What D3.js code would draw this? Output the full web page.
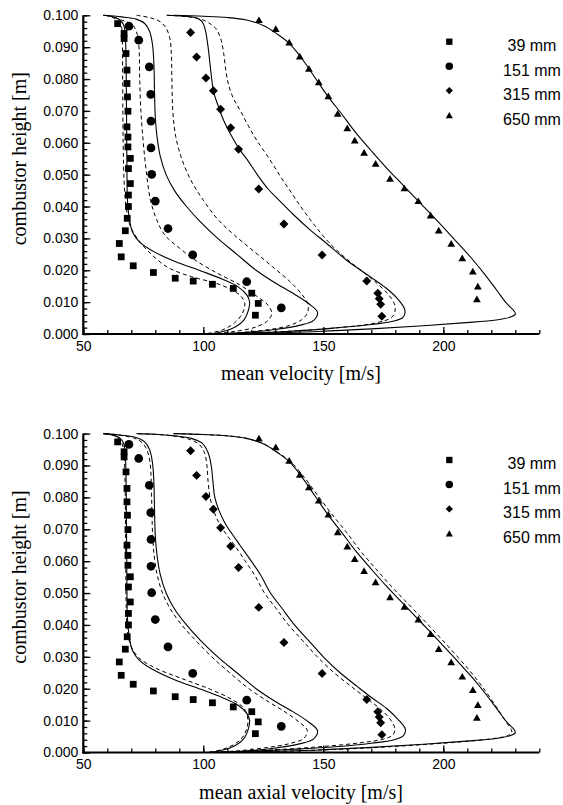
<!DOCTYPE html>
<html>
<head>
<meta charset="utf-8">
<script src="https://cdn.jsdelivr.net/npm/d3@7"></script>
<style>
  html, body { margin: 0; padding: 0; background: #fff; }
  svg { display: block; }
  .tick text { font-family: "Liberation Sans", Arial, sans-serif; font-size: 14px; fill: #000; }
  .title { font-family: "Liberation Serif", "Times New Roman", serif; font-size: 20px; fill: #000; }
  .legend { font-family: "Liberation Sans", Arial, sans-serif; font-size: 16px; fill: #000; }
</style>
</head>
<body>
<svg id="fig" width="563" height="805"></svg>
<script>
// Measured velocity profiles: [velocity (m/s), combustor height (m)]
const positions = ["39 mm", "151 mm", "315 mm", "650 mm"];

const meas39 = [[64.3,0.0974],[67.0,0.0943],[67.0,0.0927],[67.8,0.0880],[68.2,0.0828],[68.2,0.0786],[68.4,0.0744],[68.6,0.0699],[68.2,0.0650],[68.6,0.0618],[68.6,0.0587],[69.6,0.0551],[68.8,0.0519],[69.6,0.0472],[68.8,0.0436],[68.8,0.0400],[68.3,0.0363],[67.5,0.0324],[65.0,0.0284],[65.8,0.0242],[70.8,0.0214],[79.2,0.0193],[88.3,0.0175],[95.8,0.0166],[103.8,0.0156],[112.5,0.0143],[120.2,0.0128],[122.9,0.0096],[121.7,0.0059]];
const meas151 = [[69.0,0.0966],[73.1,0.0922],[77.5,0.0838],[78.1,0.0752],[78.2,0.0668],[78.2,0.0584],[78.5,0.0501],[80.0,0.0417],[85.3,0.0331],[95.6,0.0248],[118.1,0.0164],[132.5,0.0082]];
const meas315 = [[94.7,0.0946],[97.2,0.0869],[101.1,0.0803],[104.2,0.0763],[107.2,0.0705],[111.4,0.0647],[114.7,0.0580],[123.1,0.0455],[133.6,0.0345],[149.5,0.0248],[168.1,0.0166],[172.7,0.0128],[173.3,0.0111],[173.9,0.0093],[174.4,0.0056]];
const meas650 = [[123.2,0.0986],[130.2,0.0958],[135.8,0.0916],[140.2,0.0872],[144.0,0.0833],[148.1,0.0791],[152.1,0.0747],[156.0,0.0692],[160.0,0.0647],[163.1,0.0608],[167.0,0.0570],[171.8,0.0535],[177.8,0.0488],[183.8,0.0458],[189.6,0.0418],[194.7,0.0373],[198.1,0.0326],[203.3,0.0284],[207.9,0.0239],[212.3,0.0197],[214.4,0.0150],[214.0,0.0110]];

// Computed profiles (solid model)
const sim39 = [[58.3,0.100],[62,0.0996],[65,0.0987],[66.8,0.097],[67.4,0.094],[67.7,0.090],[67.9,0.080],[68.0,0.070],[68.1,0.060],[68.2,0.050],[68.4,0.042],[69.2,0.036],[70.5,0.032],[73.5,0.0288],[79,0.026],[88,0.0228],[99,0.0198],[108,0.0172],[114.5,0.0148],[118.2,0.0122],[119.3,0.0100],[118.8,0.0075],[116.8,0.0043],[112,0.0017],[106,0.0004],[102,0]];
const sim151 = [[58.3,0.100],[66,0.0995],[72,0.0988],[75.5,0.0975],[77.6,0.095],[78.8,0.091],[79.4,0.085],[79.7,0.075],[80,0.068],[80.7,0.062],[82,0.056],[84.5,0.050],[88,0.045],[93,0.040],[99,0.035],[106,0.030],[114,0.025],[122,0.020],[130,0.016],[138,0.0125],[144,0.0095],[147.6,0.0068],[146,0.0043],[140,0.0027],[130,0.0014],[118,0.0005],[105,0]];
const sim315Top = [[84.7,0.100],[92,0.0997],[97,0.0992],[99.5,0.098],[100.8,0.0955],[102,0.090],[103.2,0.082],[104.3,0.076],[106,0.072],[108.5,0.067],[111.5,0.0625],[115,0.058],[118.5,0.0545],[122.5,0.050],[127,0.0455],[131.5,0.042],[137.5,0.0375],[144,0.033],[151.4,0.0284],[160,0.023],[169.5,0.018],[176,0.0145],[181,0.011],[184,0.0075],[183.2,0.0052],[179,0.004],[168,0.0028],[152,0.0017],[135,0.0008],[118,0.0003],[104,0]];
const sim315Axial = [[72.2,0.100],[80,0.0998],[88,0.0993],[95,0.0985],[99.5,0.097],[102,0.094],[103.3,0.090],[104,0.085],[104.8,0.080],[106.5,0.076],[109,0.072],[112,0.0685],[115.3,0.065],[120,0.060],[124,0.0555],[128,0.050],[133,0.045],[138,0.040],[144,0.035],[150,0.030],[157,0.025],[164.5,0.0205],[170.5,0.017],[176.4,0.0138],[181,0.0105],[184.2,0.0073],[183.4,0.0053],[179.5,0.004],[170,0.0029],[155,0.0018],[137.5,0.001],[120,0.0004],[104,0]];
const sim650 = [[87.5,0.100],[100,0.0997],[110,0.0993],[118,0.0985],[125,0.0968],[131,0.094],[135.8,0.0912],[140.5,0.087],[146.5,0.0805],[152,0.0745],[157.5,0.0692],[163.5,0.0632],[170,0.0575],[176.5,0.052],[183.5,0.0465],[190.5,0.041],[197.5,0.0355],[204.5,0.0298],[211.5,0.024],[217.5,0.0185],[222.5,0.0135],[226.5,0.0095],[229.5,0.0072],[230,0.0062],[228,0.0053],[222,0.0044],[208,0.0035],[190,0.0025],[170,0.0016],[148,0.0008],[125,0.0003],[105,0]];

// Computed profiles (dashed model), mean velocity panel
const alt39 = [[59,0.100],[63,0.099],[65.6,0.097],[66.2,0.093],[66.4,0.080],[66.6,0.060],[67,0.048],[67.8,0.040],[69.5,0.034],[72.5,0.030],[77,0.026],[85,0.021],[95,0.018],[105,0.016],[111.5,0.014],[115.5,0.012],[117.3,0.0095],[116.3,0.0065],[113,0.0035],[108,0.0013],[102,0.0002],[100,0]];
const alt151 = [[60,0.100],[66,0.0985],[70.5,0.097],[72.5,0.094],[73.2,0.090],[73.5,0.080],[74,0.070],[75,0.060],[76.4,0.050],[78,0.042],[80.5,0.036],[84,0.031],[90,0.027],[97,0.023],[106,0.019],[115,0.0155],[122,0.012],[127,0.009],[128.5,0.0065],[127,0.0043],[122,0.0022],[113,0.0008],[104,0.0001],[101,0]];
const alt151b = [[72.2,0.100],[78,0.0992],[82,0.098],[84.5,0.096],[86,0.093],[86.7,0.088],[86.9,0.080],[87.3,0.070],[88.5,0.062],[91,0.055],[95,0.048],[100,0.042],[106,0.036],[113,0.031],[121,0.026],[129,0.021],[136,0.0165],[141,0.0125],[143.5,0.0095],[143.5,0.0068],[141,0.0045],[135,0.0025],[122,0.0009],[108,0.0001],[104,0]];
const alt315 = [[85,0.100],[94,0.0995],[100,0.0985],[103.5,0.097],[105.6,0.0955],[107.5,0.092],[108.5,0.088],[109.5,0.082],[110.6,0.078],[112.5,0.074],[115.5,0.070],[119,0.065],[122.5,0.0605],[127.5,0.055],[132.5,0.049],[137,0.044],[141.5,0.039],[146.5,0.034],[152,0.029],[159,0.024],[166.5,0.0195],[172.5,0.0158],[177,0.0125],[179.6,0.0095],[179.9,0.0072],[178.5,0.0052],[172,0.0035],[158,0.0021],[138,0.001],[118,0.0003],[104,0]];

// Computed profiles (dashed model), mean axial velocity panel
const ax39 = [[59,0.100],[63.5,0.0993],[65.8,0.0975],[66.8,0.095],[67.2,0.090],[67.5,0.080],[67.7,0.060],[67.9,0.045],[68.4,0.038],[69.8,0.0335],[73,0.0298],[80,0.0265],[91,0.0232],[103,0.0198],[112,0.0166],[117,0.0138],[118.6,0.0103],[118,0.0072],[115.5,0.004],[110,0.0015],[104,0.0003],[101,0]];
const ax151 = [[59,0.100],[66,0.0994],[71.5,0.0985],[74.8,0.097],[76.7,0.0945],[77.8,0.091],[78.3,0.085],[78.6,0.075],[78.9,0.068],[79.5,0.062],[80.7,0.056],[83,0.050],[86.3,0.045],[91,0.040],[97,0.035],[103.5,0.030],[111,0.025],[119,0.020],[127,0.016],[134.5,0.0125],[140,0.0095],[143.3,0.007],[142,0.0045],[136,0.0028],[126,0.0015],[114,0.0005],[103,0]];
const ax315 = [[73,0.100],[81,0.0997],[89,0.0991],[95,0.098],[98.5,0.0965],[100.5,0.094],[101.5,0.090],[102,0.085],[102.8,0.080],[104.3,0.076],[106.5,0.072],[109.5,0.0685],[113,0.065],[117.5,0.060],[121.5,0.0555],[125.5,0.050],[130.5,0.045],[135.5,0.040],[141.5,0.035],[147.5,0.030],[154.5,0.025],[162,0.0205],[168,0.017],[173.5,0.0138],[177.8,0.0105],[179.8,0.0075],[179,0.0055],[175,0.0042],[165,0.003],[150,0.0019],[133,0.001],[117,0.0004],[103,0]];
const ax650 = [[88,0.100],[100,0.0997],[110,0.0993],[118,0.0985],[125,0.0968],[131.3,0.094],[136.3,0.0912],[141.3,0.087],[147.8,0.0805],[153.8,0.0745],[159.5,0.0692],[165.5,0.0632],[172,0.0575],[178.5,0.052],[185.5,0.0465],[192.5,0.041],[199.3,0.0355],[206.2,0.0298],[212.8,0.024],[218.3,0.0185],[222.8,0.0135],[226.2,0.0095],[228.3,0.0072],[228.5,0.0062],[226.5,0.0052],[219,0.0042],[205,0.0032],[188,0.0023],[168,0.0014],[146,0.0007],[123,0.0002],[104,0]];

// Axis ticks
const xMajor = [50, 100, 150, 200];
const xMinor = d3.range(50, 241, 10);
const yMajor = d3.range(0, 0.1001, 0.01);
const yMinor = d3.range(0, 0.1001, 0.002);

const svg = d3.select("#fig");
const x = d3.scaleLinear().domain([50, 240]).range([83.3, 539.3]);

const panels = [
  { top: 15.3, bottom: 334, title: "mean velocity [m/s]",
    solid: [sim39, sim151, sim315Top, sim650], dashed: [alt39, alt151, alt151b, alt315] },
  { top: 433.6, bottom: 752.5, title: "mean axial velocity [m/s]",
    solid: [sim39, sim151, sim315Axial, sim650], dashed: [ax39, ax151, ax315, ax650] }
];

const measured = [meas39, meas151, meas315, meas650];

// marker shapes, each centred on its point
const markers = [
  () => d3.symbol(d3.symbolSquare, 46)(),
  () => d3.symbol(d3.symbolCircle, 60)(),
  () => d3.symbol(d3.symbolSquare, 40)(),
  () => d3.symbol(d3.symbolTriangle, 26)()
];
const markerRot = [0, 0, 45, 0];
const markerDy = [0, 0, 0, 1.1];

const legendMarkers = [
  () => d3.symbol(d3.symbolSquare, 40)(),
  () => d3.symbol(d3.symbolCircle, 44)(),
  () => d3.symbol(d3.symbolSquare, 26)(),
  () => d3.symbol(d3.symbolTriangle, 22)()
];

panels.forEach(p => {
  const y = d3.scaleLinear().domain([0, 0.1]).range([p.bottom, p.top]);
  const g = svg.append("g");
  const line = d3.line()
    .x(d => x(d[0])).y(d => y(d[1]))
    .curve(d3.curveCatmullRom.alpha(0.5));

  g.selectAll("path.solid").data(p.solid).join("path")
    .attr("class", "solid")
    .attr("d", line)
    .attr("fill", "none").attr("stroke", "#000").attr("stroke-width", 1.1);

  g.selectAll("path.dash").data(p.dashed).join("path")
    .attr("class", "dash")
    .attr("d", line)
    .attr("fill", "none").attr("stroke", "#000").attr("stroke-width", 1)
    .attr("stroke-dasharray", "4,3");

  // measurement symbols
  measured.forEach((set, i) => {
    g.append("g").selectAll("path").data(set).join("path")
      .attr("d", markers[i])
      .attr("transform", d => `translate(${x(d[0])},${y(d[1]) + markerDy[i]}) rotate(${markerRot[i]})`)
      .attr("fill", "#000");
  });

  // x axis: minor then labelled ticks, pointing inward
  const gx = g.append("g").attr("transform", `translate(0,${p.bottom})`);
  gx.append("g").call(d3.axisBottom(x).tickValues(xMinor).tickSize(-4).tickSizeOuter(0).tickFormat(""));
  gx.append("g").call(d3.axisBottom(x).tickValues(xMajor).tickSize(-7).tickSizeOuter(0).tickPadding(7));
  gx.selectAll(".domain").remove();
  gx.selectAll(".tick line").attr("stroke", "#000").attr("stroke-width", 1.3);
  gx.append("line").attr("x1", x(50) - 1).attr("x2", x(240)).attr("stroke", "#000").attr("stroke-width", 2.2);

  // y axis
  const gy = g.append("g").attr("transform", `translate(${x(50)},0)`);
  gy.append("g").call(d3.axisLeft(y).tickValues(yMinor).tickSize(-4).tickSizeOuter(0).tickFormat(""));
  gy.append("g").call(d3.axisLeft(y).tickValues(yMajor).tickSize(-7).tickSizeOuter(0).tickPadding(5).tickFormat(d3.format(".3f")));
  gy.selectAll(".domain").remove();
  gy.selectAll(".tick line").attr("stroke", "#000").attr("stroke-width", 1.3);
  gy.append("line").attr("y1", p.top).attr("y2", p.bottom + 1).attr("stroke", "#000").attr("stroke-width", 2.2);

  // axis titles
  g.append("text").attr("class", "title")
    .attr("x", 301).attr("y", p.bottom + 46)
    .attr("text-anchor", "middle").text(p.title);
  g.append("text").attr("class", "title")
    .attr("transform", `translate(26,${(p.top + p.bottom) / 2 - 16}) rotate(-90)`)
    .attr("text-anchor", "middle").text("combustor height [m]");

  // legend
  const lg = g.append("g").attr("transform", `translate(0,${p.top})`);
  positions.forEach((name, i) => {
    const cy = 26.4 + i * 24.45;
    lg.append("path").attr("d", legendMarkers[i]())
      .attr("transform", `translate(449.3,${cy + markerDy[i]}) rotate(${markerRot[i]})`)
      .attr("fill", "#000");
    lg.append("text").attr("class", "legend")
      .attr("x", 532).attr("y", cy + 9.5)
      .attr("text-anchor", "middle").text(name);
  });
});
</script>
</body>
</html>
